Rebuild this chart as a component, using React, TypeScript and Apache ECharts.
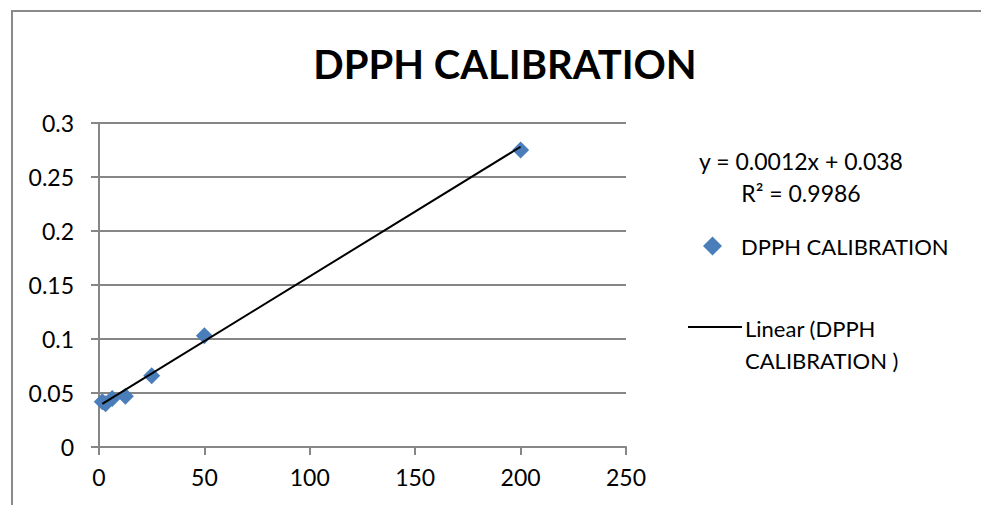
import React, { useEffect, useRef } from "react";
import * as echarts from "echarts";

const TITLE = "DPPH CALIBRATION";
const SERIES_NAME = "DPPH CALIBRATION";
const concentrations = [1.5625, 3.125, 6.25, 12.5, 25, 50, 200];
const absorbances = [0.042, 0.040, 0.045, 0.047, 0.066, 0.103, 0.275];
const slope = 0.0012;
const intercept = 0.038;
const equationText = "y = 0.0012x + 0.038";
const r2Text = "R² = 0.9986";
const trendLegend = ["Linear (DPPH", "CALIBRATION )"];

const FONT = "Lato, 'Open Sans', sans-serif";
const GRAY = "#868686";

export default function App() {
  const ref = useRef<HTMLDivElement>(null);
  useEffect(() => {
    if (!ref.current) return;
    const chart = echarts.init(ref.current, null, { renderer: "svg" });
    const xMin = Math.min(...concentrations);
    const xMax = Math.max(...concentrations);
    const trend = [
      [xMin, slope * xMin + intercept],
      [xMax, slope * xMax + intercept],
    ];
    const txt = (text: string, x: number, y: number, align: string, size = 22) => ({
      type: "text",
      x,
      y,
      style: {
        text,
        fontFamily: FONT,
        fontSize: size,
        fill: "#000",
        align,
        verticalAlign: "middle",
      },
    });
    chart.setOption({
      animation: false,
      backgroundColor: "#ffffff",
      title: {
        text: TITLE,
        left: 500,
        textAlign: "center",
        top: 39,
        textStyle: { fontFamily: FONT, fontWeight: "bold", fontSize: 40, color: "#000" },
      },
      grid: { left: 99, top: 123, width: 527, height: 324 },
      xAxis: {
        type: "value",
        min: 0,
        max: 250,
        interval: 50,
        axisLine: { show: true, lineStyle: { color: GRAY, width: 2 } },
        axisTick: { show: true, length: 8, lineStyle: { color: GRAY, width: 2 } },
        splitLine: { show: false },
        axisLabel: { fontFamily: FONT, fontSize: 23, color: "#000", margin: 18 },
      },
      yAxis: {
        type: "value",
        min: 0,
        max: 0.3,
        interval: 0.05,
        axisLine: { show: true, lineStyle: { color: GRAY, width: 2 } },
        axisTick: { show: true, length: 8, lineStyle: { color: GRAY, width: 2 } },
        splitLine: { show: true, lineStyle: { color: GRAY, width: 2 } },
        axisLabel: { fontFamily: FONT, fontSize: 23, color: "#000", margin: 25 },
      },
      legend: {
        data: [SERIES_NAME],
        orient: "vertical",
        left: 698,
        top: 230,
        itemWidth: 19,
        itemHeight: 19,
        itemGap: 10,
        textStyle: { fontFamily: FONT, fontSize: 22, color: "#000", padding: [0, 0, 0, 14] },
      },
      graphic: [
        {
          type: "rect",
          shape: { x: 12, y: 11, width: 1000, height: 600 },
          style: { fill: "none", stroke: "#8a8a8a", lineWidth: 2 },
          silent: true,
        },
        txt(equationText, 801, 161, "center", 23),
        txt(r2Text, 801, 193, "center", 23),
        {
          type: "line",
          shape: { x1: 688, y1: 327, x2: 742, y2: 327 },
          style: { stroke: "#000", lineWidth: 2 },
        },
        txt(trendLegend[0], 745, 328, "left"),
        txt(trendLegend[1], 745, 360, "left"),
      ],
      series: [
        {
          name: "Linear (DPPH CALIBRATION )",
          type: "line",
          data: trend,
          symbol: "none",
          lineStyle: { color: "#000", width: 2 },
          z: 3,
        },
        {
          name: SERIES_NAME,
          type: "scatter",
          data: concentrations.map((c, i) => [c, absorbances[i]]),
          symbol: "diamond",
          symbolSize: 17,
          itemStyle: { color: "#4a7ebb", opacity: 1 },
          z: 2,
        },
      ],
    });
    return () => chart.dispose();
  }, []);
  return (
    <div
      ref={ref}
      style={{ position: "fixed", left: 0, top: 0, width: 981, height: 505 }}
    />
  );
}
